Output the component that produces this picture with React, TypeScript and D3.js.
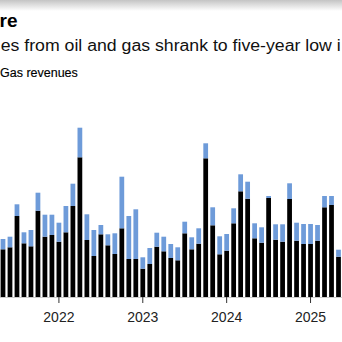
import React from "react";
import * as d3 from "d3";

const months: string[] = [
  "2021-05","2021-06","2021-07","2021-08","2021-09","2021-10","2021-11","2021-12",
  "2022-01","2022-02","2022-03","2022-04","2022-05","2022-06","2022-07","2022-08","2022-09","2022-10","2022-11","2022-12",
  "2023-01","2023-02","2023-03","2023-04","2023-05","2023-06","2023-07","2023-08","2023-09","2023-10","2023-11","2023-12",
  "2024-01","2024-02","2024-03","2024-04","2024-05","2024-06","2024-07","2024-08","2024-09","2024-10","2024-11","2024-12",
  "2025-01","2025-02","2025-03","2025-04","2025-05",
];

// Oil revenues (approx., billion rubles)
const oilRevenues: number[] = [
  477, 497, 810, 537, 507, 863, 603, 620,
  553, 647, 910, 1397, 570, 410, 627, 517, 430, 687, 380, 380,
  283, 330, 503, 457, 390, 367, 637, 477, 533, 1387, 717, 427,
  463, 737, 1057, 983, 587, 543, 990, 573, 553, 980, 563, 530,
  530, 563, 897, 920, 403,
];

// Gas revenues (approx., billion rubles)
const gasRevenues: number[] = [
  103, 106, 117, 110, 163, 180, 220, 203,
  190, 263, 223, 296, 257, 260, 93, 110, 207, 516, 430, 497,
  114, 160, 140, 146, 140, 130, 116, 120, 154, 150, 180, 180,
  167, 150, 170, 170, 150, 154, 20, 154, 174, 157, 180, 200,
  200, 157, 113, 90, 70,
];

const yearTicks: string[] = ["2022-01", "2023-01", "2024-01", "2025-01"];
const yearLabels: string[] = ["2022", "2023", "2024", "2025"];

const W = 342;
const H = 342;
const FONT = "'Liberation Sans', Arial, Helvetica, sans-serif";

export default function App() {
  const x = d3.scaleBand<string>().domain(months).range([-0.5, 342]).paddingInner(0.32).paddingOuter(0.16);
  const y = d3.scaleLinear().domain([0, 2000]).range([297, 97]);

  return (
    <svg
      width={W}
      height={H}
      viewBox={`0 0 ${W} ${H}`}
      style={{ position: "fixed", left: 0, top: 0, background: "#fff" }}
    >
      <defs>
        <linearGradient id="topfade" x1="0" y1="0" x2="0" y2="1">
          <stop offset="0" stopColor="#c4c4c4" />
          <stop offset="1" stopColor="#ffffff" />
        </linearGradient>
      </defs>
      <rect x={0} y={0} width={W} height={H} fill="#fff" />
      <rect x={0} y={0} width={W} height={11} fill="url(#topfade)" />

      <text x={17.5} y={27} textAnchor="end" fontFamily={FONT} fontWeight="bold" fontSize={19} fill="#000">
        re
      </text>
      <text
        x={0.7}
        y={50.5}
        fontFamily={FONT}
        fontSize={16}
        fill="#111"
        textLength={340}
        lengthAdjust="spacingAndGlyphs"
      >
        es from oil and gas shrank to five-year low i
      </text>
      <text x={0} y={77.3} fontFamily={FONT} fontSize={12.5} fill="#000" stroke="#000" strokeWidth={0.15}>
        Gas revenues
      </text>

      <g>
        {months.map((m, i) => {
          const x0 = x(m)!;
          const oil = oilRevenues[i];
          const gas = gasRevenues[i];
          return (
            <g key={m}>
              <rect x={x0} y={y(oil)} width={x.bandwidth()} height={y(0) - y(oil)} fill="#000" />
              <rect x={x0} y={y(oil + gas)} width={x.bandwidth()} height={y(oil) - y(oil + gas)} fill="#6e9bd9" />
            </g>
          );
        })}
      </g>

      <line x1={0} x2={W} y1={y(0) + 0.5} y2={y(0) + 0.5} stroke="#ccc" strokeWidth={1} />

      <g>
        {yearTicks.map((m, i) => {
          const cx = x(m)! + x.bandwidth() / 2;
          return (
            <g key={m}>
              <line x1={cx} x2={cx} y1={y(0)} y2={y(0) + 6} stroke="#333" strokeWidth={1} />
              <text x={cx} y={321.7} textAnchor="middle" fontFamily={FONT} fontSize={14} fill="#222">
                {yearLabels[i]}
              </text>
            </g>
          );
        })}
      </g>
    </svg>
  );
}
